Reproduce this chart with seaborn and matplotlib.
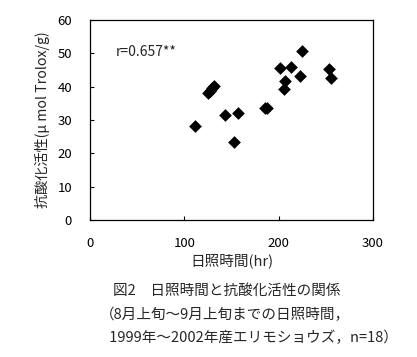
import numpy as np
import pandas as pd
import matplotlib
matplotlib.use("Agg")
import matplotlib.pyplot as plt
import seaborn as sns

# sunshine hours vs antioxidant activity
sunshine = [111, 125, 127, 129, 131, 143, 153, 157, 185, 188,
            201, 206, 207, 213, 223, 225, 253, 256]
activity = [28.2, 38.1, 38.8, 39.6, 40.3, 31.5, 23.3, 32.1, 33.6, 33.6,
            45.5, 39.3, 41.8, 45.9, 43.1, 50.8, 45.2, 42.6]

df = pd.DataFrame({"sunshine": sunshine, "activity": activity})

sns.set_style("ticks")
plt.rcParams['font.family'] = ['Noto Sans CJK JP', 'DejaVu Sans']

fig = plt.figure(figsize=(4.17, 3.57), dpi=100)
ax = fig.add_axes([90/417, 1-220/357, 283/417, 200/357])

sns.scatterplot(data=df, x="sunshine", y="activity", marker="D", s=42,
                color="black", edgecolor="black", linewidth=0, ax=ax)

ax.set_xlim(0, 300)
ax.set_ylim(0, 60)
ax.set_xticks([0, 100, 200, 300])
ax.set_yticks(range(0, 61, 10))
ax.tick_params(direction="in", length=3, width=0.8, labelsize=9.5,
               colors="black")
ax.tick_params(axis="x", pad=12)
ax.tick_params(axis="y", pad=13)
for sp in ax.spines.values():
    sp.set_visible(True)
    sp.set_color("black")
    sp.set_linewidth(0.9)

ax.set_xlabel("日照時間(hr)", fontsize=10.5, labelpad=3)
ax.set_ylabel("抗酸化活性(μ mol Trolox/g)", fontsize=10.2, labelpad=5)

ax.text(27, 50.3, "r=0.657**", fontsize=10, va="center", ha="left")

fig.text(227/417, 1-291/357, "図2　日照時間と抗酸化活性の関係", fontsize=10.5,
         ha="center", va="center")
fig.text(100/417, 1-315/357, "（8月上旬～9月上旬までの日照時間，", fontsize=10.5,
         ha="left", va="center")
fig.text(106/417, 1-338/357, " 1999年～2002年産エリモショウズ，n=18）", fontsize=10.5,
         ha="left", va="center")

fig.savefig("out.png", dpi=100)
